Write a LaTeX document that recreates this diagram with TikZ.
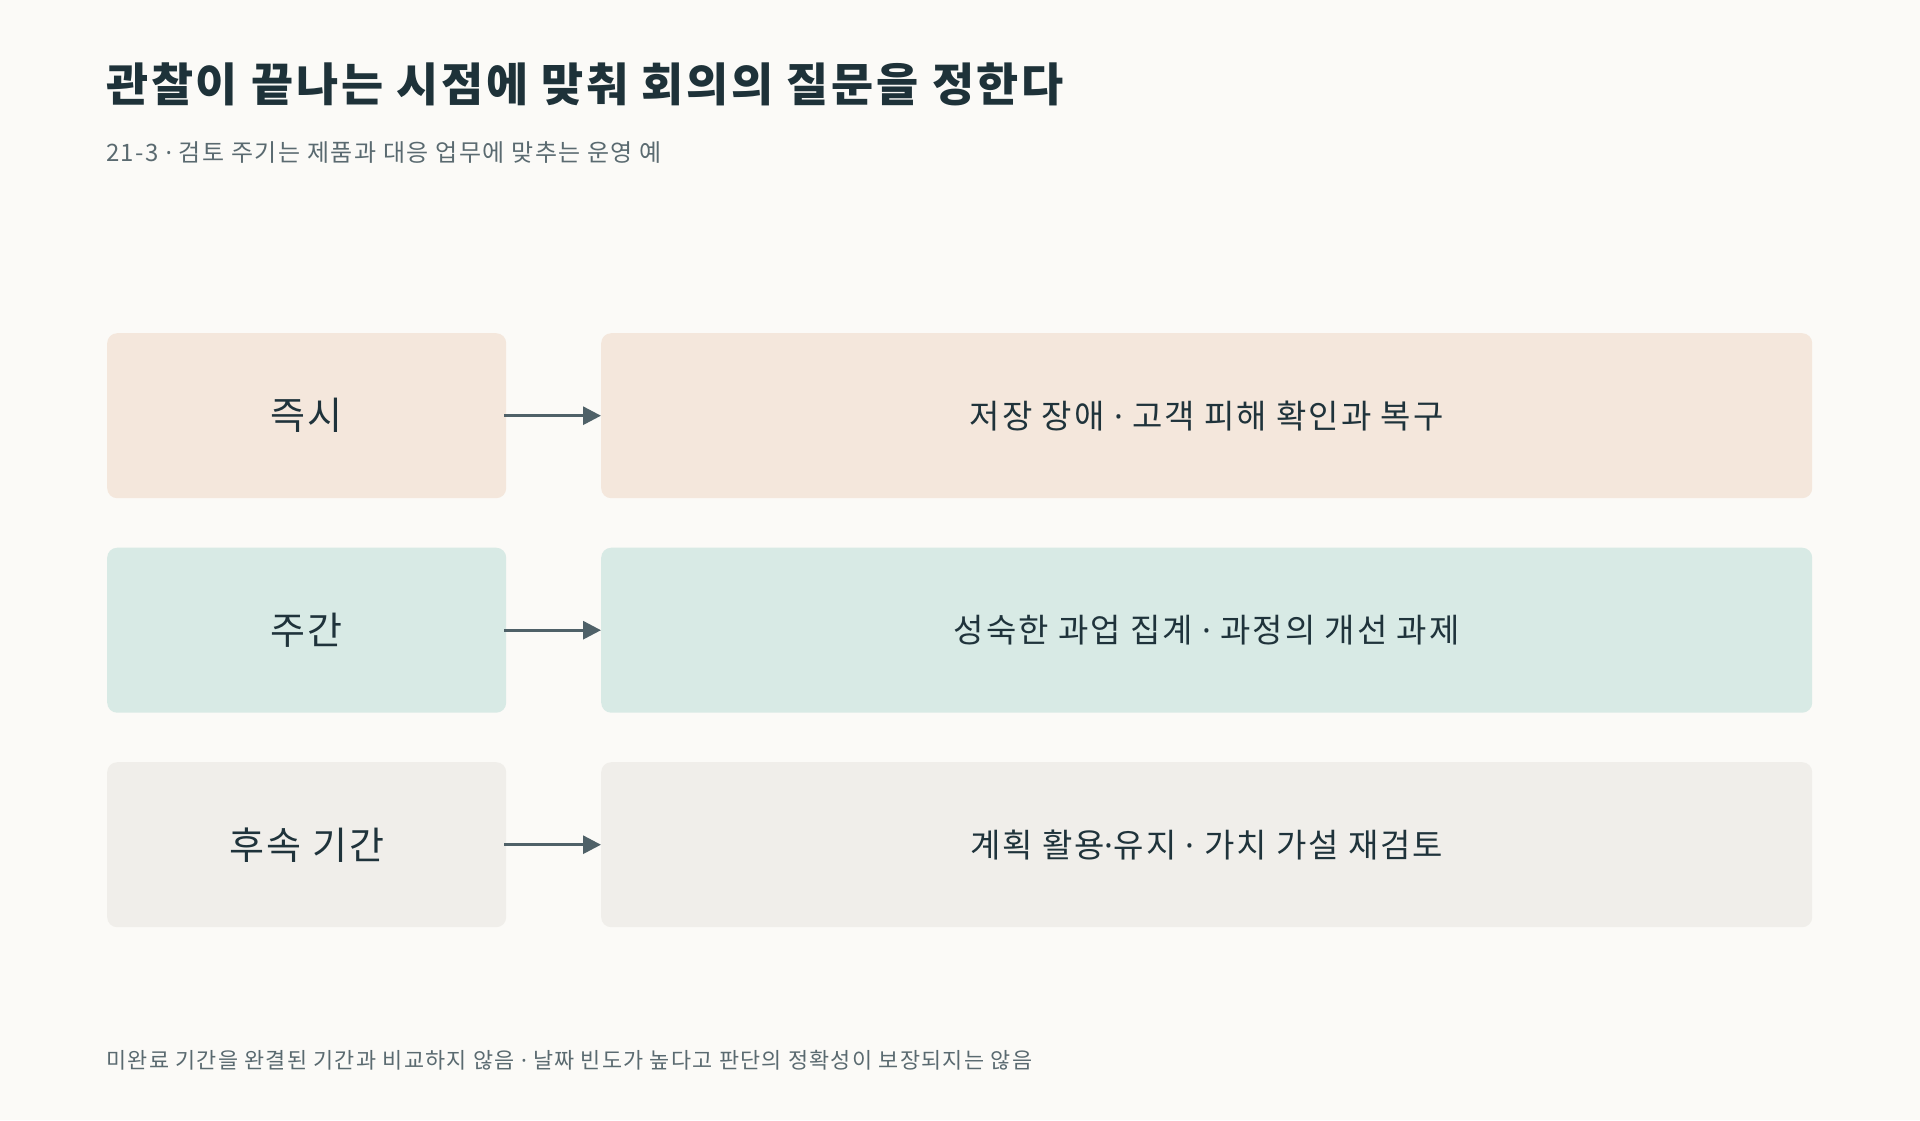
\documentclass[tikz,border=0pt]{standalone}
\usepackage{fontspec}
\setmainfont{Noto Sans CJK KR}
\newfontfamily\krfont[LetterSpace=6]{Noto Sans CJK KR}
\newfontfamily\dotfont{Noto Sans}
\newcommand\mdot{{\dotfont ·}}
\usetikzlibrary{arrows.meta}
\definecolor{bgc}{HTML}{FBFAF7}
\definecolor{titlec}{HTML}{1E3239}
\definecolor{textc}{HTML}{1F333B}
\definecolor{subc}{HTML}{5A6A70}
\definecolor{arrc}{HTML}{4F6168}
\definecolor{rowa}{HTML}{F4E7DC}
\definecolor{rowb}{HTML}{D8EAE5}
\definecolor{rowc}{HTML}{F0EEEA}
\tikzset{
  lbox/.style={rounded corners=10pt, inner sep=0pt, minimum width=399pt, minimum height=165pt, anchor=north west, text=textc, font=\krfont\fontsize{38}{44}\selectfont},
  rbox/.style={rounded corners=10pt, inner sep=0pt, minimum width=1211pt, minimum height=165pt, anchor=north west, text=textc, font=\krfont\fontsize{33}{38}\selectfont},
  flow/.style={draw=arrc, line width=3pt, -{Triangle[length=18pt,width=18pt]}},
  titletext/.style={anchor=west, inner sep=0pt, text=titlec, font=\krfont\bfseries\fontsize{45.8}{52}\selectfont},
  smalltext/.style={anchor=west, inner sep=0pt, text=subc},
}
\begin{document}
\begin{tikzpicture}[x=1pt,y=-1pt]
\fill[bgc] (0,0) rectangle (1920,1120);
\useasboundingbox (0,0) rectangle (1920,1120);
\node[titletext] (title) at (106,84.5) {관찰이 끝나는 시점에 맞춰 회의의 질문을 정한다};
\node[smalltext, font=\krfont\fontsize{24}{28}\selectfont] (sub) at (106,153) {21-3 \mdot{} 검토 주기는 제품과 대응 업무에 맞추는 운영 예};

\node[lbox, fill=rowa] (l1) at (107,333) {즉시};
\node[rbox, fill=rowa] (r1) at (601,333) {저장 장애 \mdot{} 고객 피해 확인과 복구};
\node[lbox, fill=rowb] (l2) at (107,547.5) {주간};
\node[rbox, fill=rowb] (r2) at (601,547.5) {성숙한 과업 집계 \mdot{} 과정의 개선 과제};
\node[lbox, fill=rowc] (l3) at (107,762) {후속 기간};
\node[rbox, fill=rowc] (r3) at (601,762) {계획 활용\mdot{}유지 \mdot{} 가치 가설 재검토};

\draw[flow] ([xshift=-2pt]l1.east) -- (r1.west);
\draw[flow] ([xshift=-2pt]l2.east) -- (r2.west);
\draw[flow] ([xshift=-2pt]l3.east) -- (r3.west);

\node[smalltext, font=\krfont\fontsize{21.85}{26}\selectfont] (foot) at (106,1060) {미완료 기간을 완결된 기간과 비교하지 않음 \mdot{} 날짜 빈도가 높다고 판단의 정확성이 보장되지는 않음};
\end{tikzpicture}
\end{document}
